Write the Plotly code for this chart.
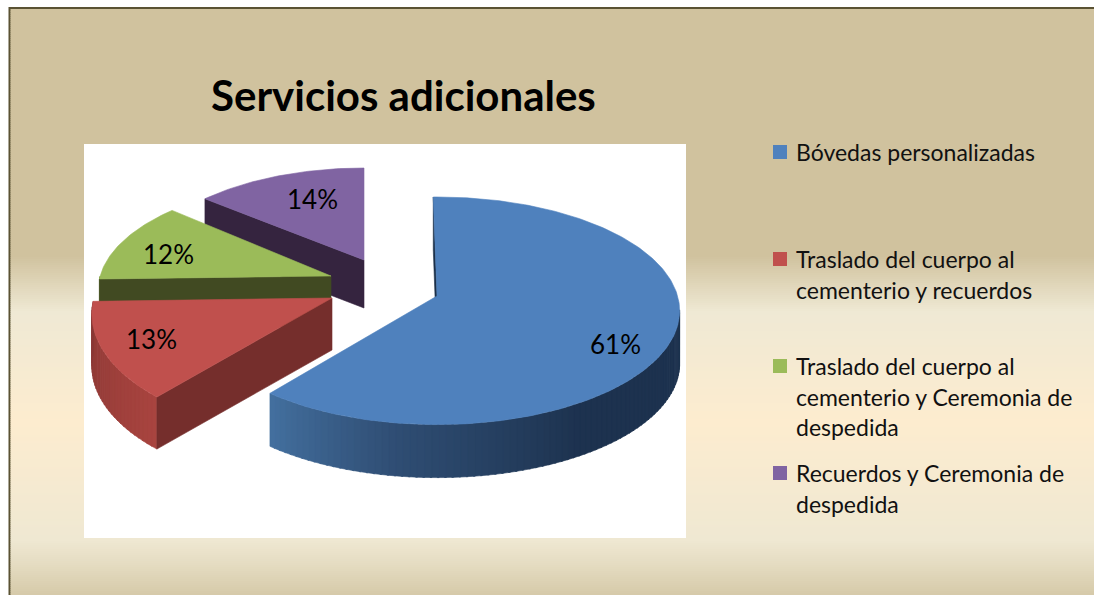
import math
import plotly.graph_objects as go

# ---- data ----
categories = ["Bóvedas personalizadas",
              "Traslado del cuerpo al cementerio y recuerdos",
              "Traslado del cuerpo al cementerio y Ceremonia de despedida",
              "Recuerdos y Ceremonia de despedida"]
values = [61, 13, 12, 14]
legend_lines = [["Bóvedas personalizadas"],
                ["Traslado del cuerpo al", "cementerio y recuerdos"],
                ["Traslado del cuerpo al", "cementerio y Ceremonia de", "despedida"],
                ["Recuerdos y Ceremonia de", "despedida"]]
title_text = "Servicios adicionales"

# ---- styles ----
top_colors = ["#4F81BD", "#C0504D", "#9BBB59", "#8064A2"]
cut_colors = ["#1C3049", "#752E2C", "#414A22", "#35243F"]
rim_colors = [[(0.0, "#1D324F"), (0.42, "#1D324F"), (0.75, "#2F4D73"), (1.0, "#44709F")],
              [(0.0, "#A8443F"), (1.0, "#8A3835")],
              [(0.0, "#6F8A3E"), (1.0, "#6F8A3E")],
              [(0.0, "#4A3560"), (1.0, "#4A3560")]]
W, H = 1094, 595

# ---- projection of the exploded, tilted pie ----
apex_x = [437, 332, 331, 364]
apex_y = [296, 298, 276, 260]
slice_scale = [0.99, 0.98, 0.95, 0.92]
slice_stretch = [1.0, 1.08, 1.0, 1.0]
slice_turn = [-1.0, 2.0, 2.0, 0.0]
R, RY, K, DEPTH = 243, 113, 0.13, [53, 52, 50, 48]


def project(i, deg):
    t = math.radians(deg)
    u, v = math.sin(t), math.cos(t)
    s = slice_scale[i] / (1 + K * v)
    return apex_x[i] + R * u * s, apex_y[i] - RY * slice_stretch[i] * v * s


def hexmix(stops, f):
    for (a, ca), (b, cb) in zip(stops, stops[1:]):
        if f <= b:
            g = 0 if b == a else (f - a) / (b - a)
            ra = [int(ca[j:j + 2], 16) for j in (1, 3, 5)]
            rb = [int(cb[j:j + 2], 16) for j in (1, 3, 5)]
            return "#%02X%02X%02X" % tuple(round(x + (y - x) * g) for x, y in zip(ra, rb))
    return stops[-1][1]


def poly(xs, ys, color, name=None):
    return go.Scatter(x=xs, y=ys, mode="lines", fill="toself", fillcolor=color,
                      line=dict(color=color, width=0.6), hoverinfo="skip" if name is None else "name",
                      name=name or "", showlegend=False)


fig = go.Figure()
angles = []
cur = 0.0
for i, v in enumerate(values):
    angles.append((cur + slice_turn[i], cur + v * 3.6 + slice_turn[i]))
    cur += v * 3.6

# back slices first: purple, green, red, blue
for i in [3, 2, 1, 0]:
    a0, a1 = angles[i]
    d = DEPTH[i]
    ax, ay = apex_x[i], apex_y[i]
    # rim wall, only on the part facing the viewer
    vis0 = max(a0, 97.0)
    vis1 = min(a1, 270.0)
    if vis1 > vis0:
        n = max(2, int((vis1 - vis0) / 1.5))
        for k in range(n):
            b0 = vis0 + (vis1 - vis0) * k / n
            b1 = min(vis0 + (vis1 - vis0) * (k + 1.25) / n, vis1)
            sub = [b0 + (b1 - b0) * q / 3 for q in range(4)]
            pts = [project(i, s) for s in sub]
            xs = [p[0] for p in pts] + [p[0] for p in reversed(pts)] + [pts[0][0]]
            ys = [p[1] for p in pts] + [p[1] + d for p in reversed(pts)] + [pts[0][1]]
            fig.add_trace(poly(xs, ys, hexmix(rim_colors[i], (k + 0.5) / n)))
    # flat cut wall at the start angle of the slice
    rx, ry = project(i, a0)
    fig.add_trace(poly([ax, rx, rx, ax, ax], [ay, ry, ry + d, ay + d, ay], cut_colors[i]))
    # top face
    n = max(8, int(a1 - a0))
    pts = [project(i, a0 + (a1 - a0) * q / n) for q in range(n + 1)]
    fig.add_trace(poly([ax] + [p[0] for p in pts] + [ax], [ay] + [p[1] for p in pts] + [ay],
                       top_colors[i], categories[i]))

# percent labels
label_x = [615, 151, 168, 312]
label_y = [344, 339, 254, 199]
for v, x, y in zip(values, label_x, label_y):
    fig.add_annotation(x=x, y=y, text=f"{v}%", showarrow=False, xanchor="center", yanchor="middle",
                       font=dict(family="Lato", size=26, color="#000000"))

# legend swatches and text
swatch_y = [152, 259, 366, 473]
line_pitch = 30.5
fig.add_trace(go.Scatter(x=[780] * 4, y=swatch_y, mode="markers", hoverinfo="skip", showlegend=False,
                         marker=dict(symbol="square", size=14, color=top_colors, line=dict(width=0))))
for lines, y0 in zip(legend_lines, swatch_y):
    for j, line in enumerate(lines):
        fig.add_annotation(x=794, y=y0 + j * line_pitch, text=line, showarrow=False,
                           xanchor="left", yanchor="middle",
                           font=dict(family="Lato", size=23, color="#111111"))

fig.add_annotation(x=403, y=95, text=f"<b>{title_text}</b>", showarrow=False, xanchor="center", yanchor="middle",
                   font=dict(family="Lato", size=42, color="#000000"))

# ---- background ----
stops = [(0.0, "#D0C29E"), (255.0, "#D0C29E"), (311.0, "#EFE9D4"), (421.0, "#FDECCF"),
         (539.0, "#EFE8D2"), (560.0, "#E6DEC4"), (595.0, "#D5C9A8")]
shapes = [dict(type="rect", xref="x", yref="y", x0=8.5, x1=W, y0=7, y1=H, fillcolor="#5A5233",
               line_width=0, layer="below")]
for y in range(9, H, 2):
    shapes.append(dict(type="rect", xref="x", yref="y", x0=10.5, x1=W, y0=y, y1=min(y + 2.5, H),
                       fillcolor=hexmix(stops, float(y)), line_width=0, layer="below"))
shapes.append(dict(type="rect", xref="x", yref="y", x0=84, x1=686, y0=144, y1=538,
                   fillcolor="#FFFFFF", line_width=0, layer="below"))

fig.update_layout(width=W, height=H, margin=dict(l=0, r=0, t=0, b=0), showlegend=False,
                  paper_bgcolor="#FFFFFF", plot_bgcolor="rgba(0,0,0,0)", shapes=shapes,
                  xaxis=dict(range=[0, W], visible=False, fixedrange=True),
                  yaxis=dict(range=[H, 0], visible=False, fixedrange=True))
fig.write_html("out.html", config=dict(displayModeBar=False),
               post_script="document.body.style.margin='0';document.documentElement.style.overflow='hidden';")
